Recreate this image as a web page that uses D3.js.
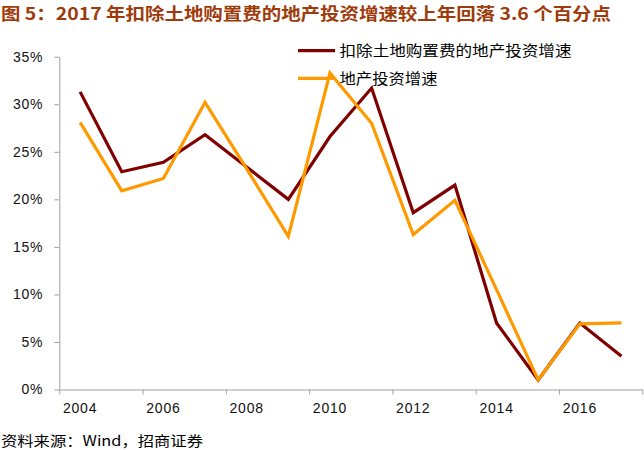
<!DOCTYPE html>
<html><head><meta charset="utf-8">
<script src="https://cdn.jsdelivr.net/npm/d3@7"></script>
<style>
body{margin:0;background:#fff;}
svg{display:block;}
</style></head>
<body>
<svg id="chart" width="644" height="450"></svg>
<script>
const title = "图 5：2017 年扣除土地购置费的地产投资增速较上年回落 3.6 个百分点";
const source = "资料来源：Wind，招商证券";
const years = ["2004","2005","2006","2007","2008","2009","2010","2011","2012","2013","2014","2015","2016","2017"];
const seriesNames = ["扣除土地购置费的地产投资增速", "地产投资增速"];
const exLandGrowth = [31.3, 22.9, 23.9, 26.8, 23.4, 20.0, 26.6, 31.7, 18.6, 21.5, 7.0, 1.0, 7.0, 3.5];
const totalGrowth = [28.1, 20.9, 22.2, 30.2, 23.2, 16.1, 33.3, 28.0, 16.3, 19.9, 10.5, 1.0, 6.9, 7.0];
const yTicks = [0, 5, 10, 15, 20, 25, 30, 35];
const xLabelYears = ["2004","2006","2008","2010","2012","2014","2016"];

const colors = ["#800000", "#FF9900"];
const svg = d3.select("#chart");
const L = 59.3, R = 642.3, T = 56.7, B = 389.5;

const x = d3.scaleBand().domain(years).range([L, R]).padding(0);
const xi = d3.scaleLinear().domain([0, years.length]).range([L, R]);
const y = d3.scaleLinear().domain([0, 35]).range([B, T]);
const cx = d => x(d) + x.bandwidth() / 2;

// title
svg.append("text").attr("x", 1).attr("y", 20)
  .attr("font-family", "'Noto Sans CJK SC', 'Liberation Sans', sans-serif")
  .attr("font-weight", "bold").attr("font-size", 17)
  .attr("fill", "#9E3B0B")
  .attr("textLength", 610).attr("lengthAdjust", "spacingAndGlyphs")
  .text(title);

// y axis
const yAxis = d3.axisLeft(y).tickValues(yTicks).tickFormat(d => d + "%")
  .tickSize(5).tickSizeOuter(0).tickPadding(11);
const gy = svg.append("g").attr("transform", `translate(${L},0)`).call(yAxis);
gy.selectAll("path, line").attr("stroke", "#A0A0A0");
gy.selectAll("text").attr("font-family", "'Liberation Sans', Arial, sans-serif")
  .attr("font-size", 14).attr("fill", "#111").style("letter-spacing", "0.8px");

// x axis ticks (between categories, every 2)
const xTickAxis = d3.axisBottom(xi).tickValues(d3.range(0, years.length + 1, 2))
  .tickFormat("").tickSize(5).tickSizeOuter(0);
const gx = svg.append("g").attr("transform", `translate(0,${B})`).call(xTickAxis);
gx.selectAll("path, line").attr("stroke", "#A0A0A0");

// x labels centered on categories
const xLabAxis = d3.axisBottom(x).tickValues(xLabelYears).tickSize(0).tickPadding(13.5);
const gxl = svg.append("g").attr("transform", `translate(0,${B})`).call(xLabAxis);
gxl.select(".domain").remove();
gxl.selectAll("text").attr("font-family", "'Liberation Sans', Arial, sans-serif")
  .attr("font-size", 14).attr("fill", "#111").style("letter-spacing", "0.8px");

// lines
const line = d3.line().x((d, i) => cx(years[i])).y(d => y(d));
[exLandGrowth, totalGrowth].forEach((s, k) => {
  svg.append("path").datum(s).attr("d", line)
    .attr("fill", "none").attr("stroke", colors[k]).attr("stroke-width", 3.2)
    .attr("stroke-linejoin", "miter").attr("stroke-linecap", "butt");
});

// legend
const legY = [50.7, 78.3];
const legLen = [232, 98];
seriesNames.forEach((n, k) => {
  svg.append("line").attr("x1", 298).attr("x2", 335).attr("y1", legY[k]).attr("y2", legY[k])
    .attr("stroke", colors[k]).attr("stroke-width", 3.2);
  svg.append("text").attr("x", 339.5).attr("y", legY[k] + 5.5)
    .attr("font-family", "'Noto Sans CJK SC', sans-serif").attr("font-size", 15)
    .attr("fill", "#000")
    .attr("textLength", legLen[k]).attr("lengthAdjust", "spacingAndGlyphs")
    .text(n);
});

// source
svg.append("text").attr("x", 1).attr("y", 446)
  .attr("font-family", "'Noto Sans CJK SC', 'Liberation Sans', sans-serif").attr("font-size", 14)
  .attr("fill", "#000")
  .attr("textLength", 202).attr("lengthAdjust", "spacingAndGlyphs")
  .text(source);
</script>
</body></html>
